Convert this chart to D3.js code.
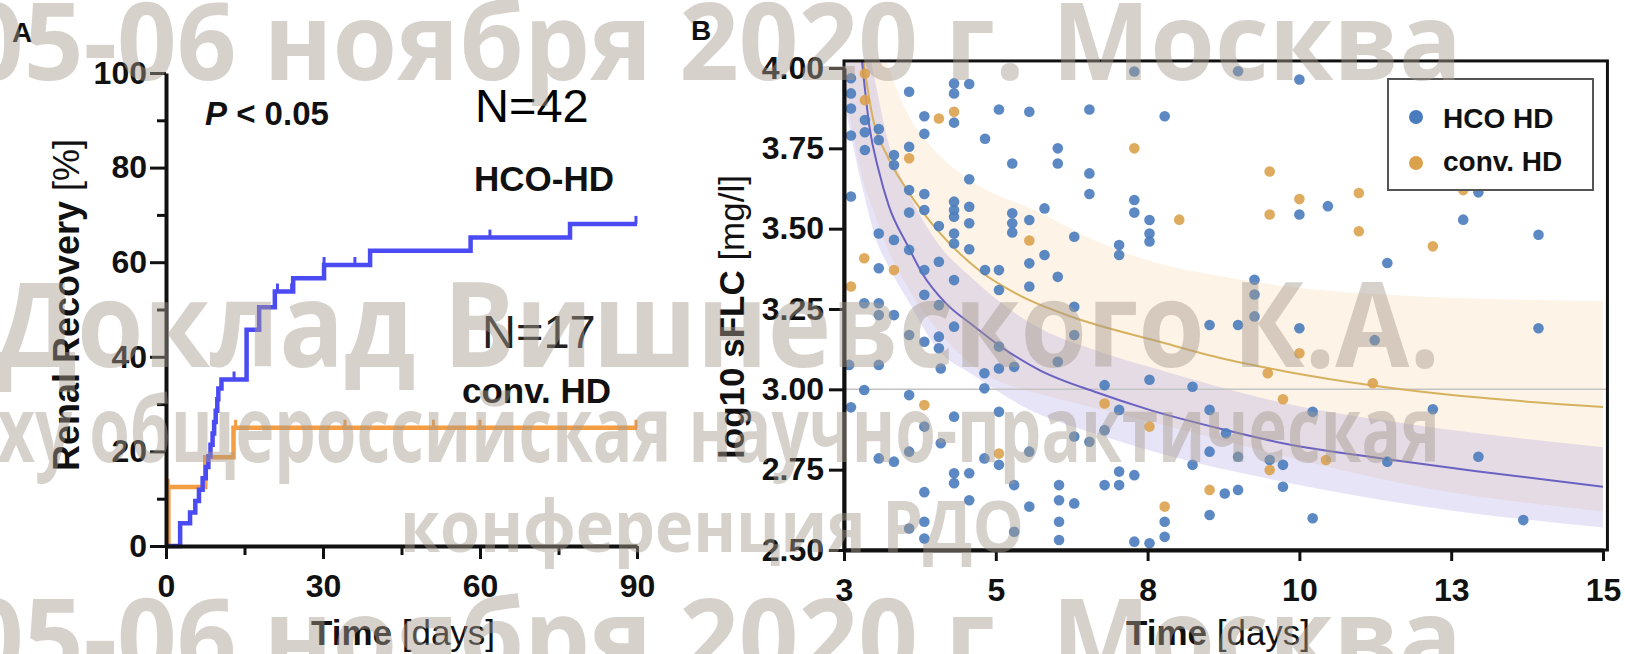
<!DOCTYPE html>
<html><head><meta charset="utf-8">
<script src="https://cdn.jsdelivr.net/npm/d3@7"></script>
<style>body{margin:0;background:#fff;overflow:hidden}svg{display:block}</style>
</head><body>
<svg id="c" width="1625" height="654"></svg>
<script>
// ---------- DATA ----------
// Panel A: Kaplan-Meier steps [day, %]
const hcoSteps = [[0,0],[2.7,4.8],[4.6,7.1],[5.6,9.5],[6.3,11.9],[7.0,14.3],[7.6,16.7],[8.1,19.0],[8.5,21.4],[8.9,23.8],[9.2,26.2],[9.5,28.6],[9.8,31.0],[10.0,33.3],[10.6,35.2],[15.4,45.7],[17.8,50.5],[20.8,53.8],[24.3,56.6],[30.2,59.4],[39.0,62.4],[58.2,65.2],[77.2,68.1],[90,68.1]];
const hcoCensor = [13.0, 21.3, 24.0, 30.2, 36.1, 61.9, 89.8];
const convSteps = [[0,0],[0.45,12.5],[7.5,18.75],[12.9,25.0],[90,25.0]];
const convCensor = [0.45, 13.3, 34.2, 51.1, 60.0, 89.8];
const aXTicks = [0, 30, 60, 90];
const aXMinor = [15, 45, 75];
const aYTicks = [0, 20, 40, 60, 80, 100];
const aYMinor = [10, 30, 50, 70, 90];

// Panel B: scatter points [time, log10 sFLC]
const hcoPoints = [
[3.11,3.968],[3.11,3.921],[3.11,3.874],[3.11,3.79],[3.11,3.60],
[3.33,3.838],[3.33,3.80],[3.33,3.745],[3.55,3.81],[3.55,3.776],[3.79,3.729],[3.79,3.698],
[4.03,3.926],[4.03,3.755],[4.27,3.85],[4.27,3.795],[4.74,3.952],[4.74,3.921],[4.98,3.95],[4.74,3.83],
[5.45,3.871],[5.93,3.864],[6.88,3.871],[7.59,3.989],[5.23,3.78],[6.38,3.75],[6.38,3.703],[5.66,3.703],[6.88,3.672],[6.88,3.608],
[4.98,3.654],[4.03,3.62],[4.27,3.608],[4.03,3.55],[4.27,3.558],[4.74,3.584],[4.74,3.558],[4.74,3.537],[4.98,3.568],[4.98,3.517],
[4.50,3.508],[4.74,3.485],[4.74,3.454],[4.98,3.436],[5.66,3.548],[5.66,3.517],[5.66,3.488],[5.93,3.527],[6.17,3.563],
[6.17,3.418],[5.93,3.392],[5.93,3.32],[6.38,3.35],[6.64,3.475],[7.59,3.589],[7.59,3.55],[7.83,3.527],[7.83,3.485],[7.83,3.46],[7.35,3.449],[7.35,3.418],
[3.55,3.485],[3.79,3.465],[4.03,3.434],[3.55,3.377],[4.27,3.371],[4.50,3.397],[4.74,3.34],[5.23,3.371],[5.45,3.371],[5.45,3.309],
[4.27,3.294],[3.32,3.268],[3.55,3.268],[3.55,3.231],[3.79,3.231],[4.50,3.262],[6.64,3.257],
[4.03,3.169],[4.27,3.148],[4.50,3.164],[4.50,3.128],[4.74,3.195],[5.45,3.133],[6.64,3.169],[6.38,3.086],[3.55,3.076],[3.08,3.076],
[3.32,2.998],[3.11,2.944],[4.03,2.982],[4.53,3.065],[5.22,3.05],[5.22,3.003],[5.45,3.065],[5.69,3.07],
[5.45,2.93],[4.74,2.915],[4.27,2.884],[4.53,2.832],[4.03,2.806],[3.55,2.785],[3.79,2.775],[5.22,2.785],
[5.45,2.765],[4.74,2.739],[4.74,2.708],[4.98,2.739],[5.69,2.702],[4.98,2.655],[4.27,2.68],[5.93,2.635],
[4.27,2.588],[4.03,2.567],[4.27,2.536],[5.69,2.557],[6.40,2.702],[6.40,2.655],[6.64,2.645],[6.40,2.588],[6.40,2.531],
[5.93,2.806],[6.64,2.853],[6.88,2.837],[7.12,2.873],[7.12,3.013],[7.35,2.936],[7.83,3.03],
[7.35,2.744],[7.59,2.733],[7.12,2.702],[7.35,2.702],[7.59,2.526],[7.83,2.521],
[9.23,3.99],[10.20,3.964],[8.07,3.85],[10.20,3.544],[10.65,3.57],[12.79,3.528],[13.03,3.613],[13.98,3.481],[11.59,3.393],
[9.49,3.341],[9.49,3.295],[9.49,3.227],[8.78,3.20],[9.23,3.20],[10.20,3.19],[13.98,3.19],
[11.39,3.153],[8.51,3.008],[8.78,2.936],[10.41,2.93],[12.31,2.938],[9.04,2.863],[8.78,2.806],[8.51,2.765],[9.23,2.79],
[9.73,2.78],[9.94,2.765],[11.59,2.775],[13.03,2.79],[9.94,2.697],[9.02,2.676],[9.23,2.687],[8.07,2.588],[8.07,2.541],
[8.78,2.609],[10.41,2.599],[13.74,2.593]
];
const convPoints = [
[3.33,3.983],[3.33,3.90],[4.03,3.719],[4.50,3.843],[4.74,3.864],[7.59,3.75],[5.93,3.463],[3.32,3.408],[3.79,3.371],[3.11,3.32],
[4.27,2.951],[5.45,2.80],[7.12,2.956],[7.83,2.884],[8.30,3.528],[9.73,3.678],[10.20,3.592],[9.73,3.544],[11.14,3.611],[11.14,3.492],
[12.79,3.62],[12.31,3.445],[10.20,3.112],[9.70,3.05],[11.36,3.019],[9.94,2.969],[9.73,2.749],[8.78,2.687],[8.07,2.635],[10.62,2.78]
];
// fitted curves and confidence bands [time, value]
const hcoFit = [[3.28,4.03],[3.4,3.82],[3.55,3.68],[3.71,3.57],[4.0,3.45],[4.24,3.36],[4.6,3.27],[5.03,3.2],[5.5,3.13],[6.09,3.06],[7.0,2.99],[7.83,2.936],[9,2.875],[10,2.83],[11.5,2.785],[13,2.745],[15,2.697]];
const convFit = [[3.3,4.03],[3.45,3.85],[3.7,3.72],[4.0,3.62],[4.5,3.49],[5.14,3.37],[5.8,3.29],[6.61,3.225],[7.99,3.148],[9,3.095],[10,3.055],[11.36,3.012],[13,2.975],[15,2.945]];
const convBandUpper = [[3.0,4.6],[3.5,4.1],[4.0,3.86],[4.5,3.73],[5.0,3.65],[6.09,3.55],[7.0,3.46],[7.83,3.40],[9,3.35],[10,3.32],[12,3.29],[15,3.275]];
const convBandLower = [[3.0,3.95],[3.3,3.65],[3.6,3.48],[4.0,3.32],[4.5,3.18],[5.0,3.08],[6.0,2.99],[7.0,2.94],[7.83,2.9],[9,2.84],[10,2.79],[12,2.70],[15,2.62]];
const hcoBandUpper = [[3.0,4.6],[3.3,4.15],[3.5,3.95],[3.71,3.76],[4.0,3.62],[4.5,3.45],[5.0,3.35],[6.0,3.2],[7.0,3.12],[8,3.06],[10,2.955],[12,2.89],[15,2.82]];
const hcoBandLower = [[3.0,3.9],[3.3,3.62],[3.5,3.47],[3.71,3.38],[4.0,3.28],[4.5,3.12],[5.0,3.05],[6.0,2.93],[7.0,2.86],[8,2.8],[10,2.71],[12,2.64],[15,2.57]];
const refLine = 3.0;
const bXTicks = [3, 5.4, 7.8, 10.2, 12.6, 15];
const bXLabels = ["3", "5", "8", "10", "13", "15"];
const bYTicks = [2.5, 2.75, 3.0, 3.25, 3.5, 3.75, 4.0];
const legendLabels = ["HCO HD", "conv. HD"];

// ---------- DRAW ----------
const F = "'Liberation Sans', Arial, Helvetica, sans-serif";
const svg = d3.select('#c');
const BLUE_A = '#4b4bf4', ORANGE_A = '#f59d42';
const BLUE_B = '#4a7cbd', ORANGE_B = '#dba24e';

// Panel A scales
const xA = d3.scaleLinear().domain([0, 90]).range([166, 637]);
const yA = d3.scaleLinear().domain([0, 100]).range([546, 73]);

function styleAxis(g, fs) {
  g.select('.domain').attr('stroke', '#111').attr('stroke-width', 4);
  g.selectAll('.tick line').attr('stroke', '#111').attr('stroke-width', 3);
  g.selectAll('.tick text').attr('font-family', F).attr('font-size', fs).attr('font-weight', 'bold').attr('fill', '#111');
}

// KM curves
const stepLine = d3.line().x(d => xA(d[0])).y(d => yA(d[1])).curve(d3.curveStepAfter);
function levelAt(steps, d) { let v = 0; for (const s of steps) if (s[0] <= d) v = s[1]; return v; }
[[convSteps, convCensor, ORANGE_A], [hcoSteps, hcoCensor, BLUE_A]].forEach(([st, cs, col]) => {
  svg.append('path').attr('d', stepLine(st)).attr('fill', 'none').attr('stroke', col).attr('stroke-width', 4.5);
  svg.append('g').selectAll('line').data(cs).join('line')
    .attr('x1', d => xA(d)).attr('x2', d => xA(d))
    .attr('y1', d => yA(levelAt(st, d))).attr('y2', d => yA(levelAt(st, d)) - 8)
    .attr('stroke', col).attr('stroke-width', 3);
});

// Axes A
const gAy = svg.append('g').attr('transform', `translate(${xA(0)},0)`)
  .call(d3.axisLeft(yA).tickValues(aYTicks).tickSize(16).tickSizeOuter(0).tickPadding(3));
styleAxis(gAy, 32);
const gAym = svg.append('g').attr('transform', `translate(${xA(0)},0)`)
  .call(d3.axisLeft(yA).tickValues(aYMinor).tickSize(9).tickFormat(''));
gAym.select('.domain').remove(); styleAxis(gAym, 32);
const gAx = svg.append('g').attr('transform', `translate(0,${yA(0)})`)
  .call(d3.axisBottom(xA).tickValues(aXTicks).tickSize(13).tickSizeOuter(0).tickPadding(15));
styleAxis(gAx, 32);
const gAxm = svg.append('g').attr('transform', `translate(0,${yA(0)})`)
  .call(d3.axisBottom(xA).tickValues(aXMinor).tickSize(9).tickFormat(''));
gAxm.select('.domain').remove(); styleAxis(gAxm, 32);

// Axis titles A
const tA = svg.append('text').attr('transform', 'translate(79,305) rotate(-90)').attr('text-anchor', 'middle')
  .attr('font-family', F).attr('font-size', 36).attr('fill', '#111');
tA.append('tspan').attr('font-weight', 'bold').text('Renal Recovery ');
tA.append('tspan').text('[%]');
const tAx = svg.append('text').attr('x', 403).attr('y', 645).attr('text-anchor', 'middle')
  .attr('font-family', F).attr('font-size', 35).attr('fill', '#111');
tAx.append('tspan').attr('font-weight', 'bold').text('Time ');
tAx.append('tspan').text('[days]');

// Annotations A
const pt = svg.append('text').attr('x', 205).attr('y', 125).attr('font-family', F).attr('font-size', 33).attr('font-weight', 'bold').attr('fill', '#111');
pt.append('tspan').attr('font-style', 'italic').text('P');
pt.append('tspan').text(' < 0.05');
svg.append('text').attr('x', 475).attr('y', 122).attr('font-family', F).attr('font-size', 47).attr('fill', '#000').text('N=42');
svg.append('text').attr('x', 474).attr('y', 191).attr('font-family', F).attr('font-size', 35).attr('font-weight', 'bold').attr('fill', '#111').text('HCO-HD');
svg.append('text').attr('x', 482).attr('y', 348).attr('font-family', F).attr('font-size', 47).attr('fill', '#222').text('N=17');
svg.append('text').attr('x', 462).attr('y', 403).attr('font-family', F).attr('font-size', 35).attr('font-weight', 'bold').attr('fill', '#111').text('conv. HD');
svg.append('text').attr('x', 12).attr('y', 42).attr('font-family', F).attr('font-size', 28).attr('font-weight', 'bold').attr('fill', '#111').text('A');
svg.append('text').attr('x', 691).attr('y', 40).attr('font-family', F).attr('font-size', 28).attr('font-weight', 'bold').attr('fill', '#111').text('B');

// Panel B scales
const xB = d3.scaleLinear().domain([3, 15]).range([844, 1603]);
const yB = d3.scaleLinear().domain([2.5, 4.0]).range([550, 68]);
const fx0 = xB(3), fx1 = xB(15.07), fy0 = yB(4.022), fy1 = yB(2.5);
svg.append('defs').append('clipPath').attr('id', 'clipB').append('rect')
  .attr('x', fx0).attr('y', fy0).attr('width', fx1 - fx0).attr('height', fy1 - fy0);
const gB = svg.append('g').attr('clip-path', 'url(#clipB)');

// bands
function band(up, lo) {
  const xs = Array.from(new Set(up.map(d => d[0]).concat(lo.map(d => d[0])))).sort((a, b) => a - b);
  const interp = (arr, x) => { for (let i = 0; i < arr.length - 1; i++) { if (x >= arr[i][0] && x <= arr[i+1][0]) { const t = (x - arr[i][0]) / (arr[i+1][0] - arr[i][0]); return arr[i][1] + t * (arr[i+1][1] - arr[i][1]); } } return arr[arr.length-1][1]; };
  return xs.map(x => [x, interp(up, x), interp(lo, x)]);
}
const area = d3.area().x(d => xB(d[0])).y0(d => yB(d[2])).y1(d => yB(d[1])).curve(d3.curveMonotoneX);
gB.append('path').attr('d', area(band(convBandUpper, convBandLower))).attr('fill', 'rgb(248,218,178)').attr('fill-opacity', 0.32);
gB.append('path').attr('d', area(band(hcoBandUpper, hcoBandLower))).attr('fill', 'rgb(160,148,226)').attr('fill-opacity', 0.25);
gB.append('line').attr('x1', xB(3)).attr('x2', xB(15.07)).attr('y1', yB(refLine)).attr('y2', yB(refLine)).attr('stroke', '#c4c4c4').attr('stroke-width', 1.5);
const fitLine = d3.line().x(d => xB(d[0])).y(d => yB(d[1])).curve(d3.curveMonotoneX);
gB.append('path').attr('d', fitLine(convFit)).attr('fill', 'none').attr('stroke', '#d6b15f').attr('stroke-width', 2);
gB.append('path').attr('d', fitLine(hcoFit)).attr('fill', 'none').attr('stroke', '#6a62c2').attr('stroke-width', 2);
gB.append('g').selectAll('circle').data(hcoPoints).join('circle')
  .attr('cx', d => xB(d[0])).attr('cy', d => yB(d[1])).attr('r', 5.3).attr('fill', BLUE_B).attr('fill-opacity', 0.9);
gB.append('g').selectAll('circle').data(convPoints).join('circle')
  .attr('cx', d => xB(d[0])).attr('cy', d => yB(d[1])).attr('r', 5.3).attr('fill', ORANGE_B).attr('fill-opacity', 0.9);

// frame
svg.append('rect').attr('x', fx0).attr('y', fy0).attr('width', fx1 - fx0).attr('height', fy1 - fy0)
  .attr('fill', 'none').attr('stroke', '#111').attr('stroke-width', 3);
const gBy = svg.append('g').attr('transform', `translate(${fx0},0)`)
  .call(d3.axisLeft(yB).tickValues(bYTicks).tickFormat(d3.format('.2f')).tickSize(15).tickSizeOuter(0).tickPadding(5));
styleAxis(gBy, 32);
const gBx = svg.append('g').attr('transform', `translate(0,${fy1})`)
  .call(d3.axisBottom(xB).tickValues(bXTicks).tickFormat((d, i) => bXLabels[i]).tickSize(11).tickSizeOuter(0).tickPadding(17));
styleAxis(gBx, 32);

const tB = svg.append('text').attr('transform', 'translate(744,317) rotate(-90)').attr('text-anchor', 'middle')
  .attr('font-family', F).attr('font-size', 35).attr('fill', '#111');
tB.append('tspan').attr('font-weight', 'bold').text('log10 sFLC ');
tB.append('tspan').text('[mg/l]');
const tBx = svg.append('text').attr('x', 1218).attr('y', 645).attr('text-anchor', 'middle')
  .attr('font-family', F).attr('font-size', 35).attr('fill', '#111');
tBx.append('tspan').attr('font-weight', 'bold').text('Time ');
tBx.append('tspan').text('[days]');

// legend
svg.append('rect').attr('x', 1388).attr('y', 79).attr('width', 205).attr('height', 111)
  .attr('fill', '#fff').attr('stroke', '#555').attr('stroke-width', 2);
[[BLUE_B, 117, 128], [ORANGE_B, 163, 171]].forEach(([c, cy, ty], i) => {
  svg.append('circle').attr('cx', 1416).attr('cy', cy).attr('r', 7).attr('fill', c);
  svg.append('text').attr('x', 1443).attr('y', ty).attr('font-family', F).attr('font-size', 28).attr('font-weight', 'bold').attr('fill', '#111').text(legendLabels[i]);
});

// watermark overlay
const WF = "'Open Sans', 'DejaVu Sans', sans-serif";
const wm = svg.append('g').attr('fill', 'rgb(165,155,142)').attr('fill-opacity', 0.46)
  .attr('font-family', WF).attr('font-weight', 'bold');
[
  ['05-06 ноября 2020 г. Москва', -36, 80, 108, 1498],
  ['Доклад Вишневского К.А.', -5, 367, 118, 1445],
  ['ху общероссийская научно-практическая', -3, 462, 92, 1443],
  ['конференция РДО', 400, 552, 72, 624],
  ['05-06 ноября 2020 г. Москва', -36, 676, 108, 1498]
].forEach(([t, x, y, fs, len]) => {
  wm.append('text').attr('x', x).attr('y', y).attr('font-size', fs)
    .attr('textLength', len).attr('lengthAdjust', 'spacingAndGlyphs').text(t);
});
</script>
</body></html>
